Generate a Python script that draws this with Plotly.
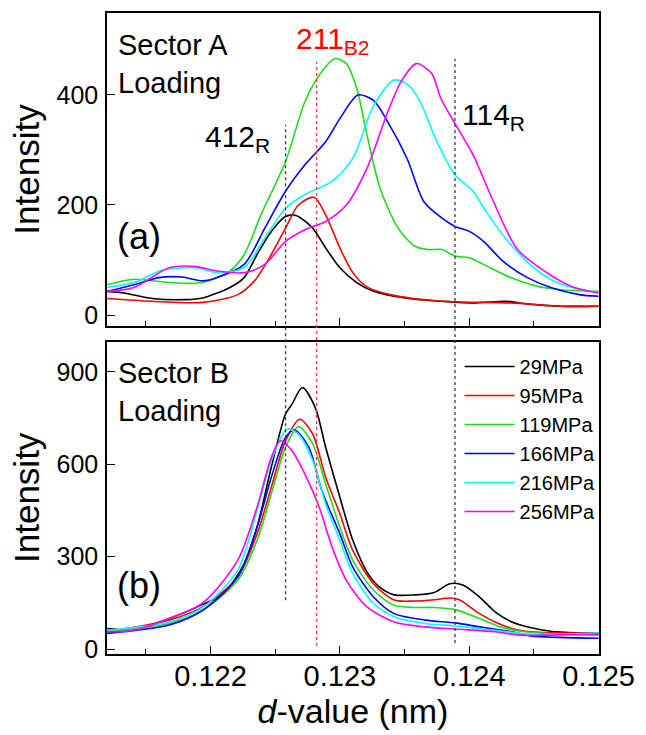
import plotly.graph_objects as go

FONT = "Arial, Liberation Sans, sans-serif"

labels = ["29MPa", "95MPa", "119MPa", "166MPa", "216MPa", "256MPa"]
colors = ["#000000", "#FF0000", "#1EDC1E", "#0000FF", "#00FFFF", "#FF00FF"]

# ---- (a) Sector A, loading: d-value (nm) and intensity ----
a29_d = [0.12120, 0.12133, 0.12155, 0.12181, 0.12194, 0.12215, 0.12226, 0.12236, 0.12247,
         0.12258, 0.12266, 0.12279, 0.12289, 0.12300, 0.12313, 0.12326, 0.12353, 0.12379,
         0.12405, 0.12429, 0.12445, 0.12471, 0.12500]
a29_i = [43, 40, 30, 28, 31, 50, 68, 110, 152, 179, 181, 158, 122, 86, 59, 43, 30, 25, 22, 25, 20, 16, 16]

a95_d = [0.12120, 0.12155, 0.12194, 0.12221, 0.12234, 0.12247, 0.12258, 0.12268, 0.12280,
         0.12289, 0.12300, 0.12310, 0.12321, 0.12339, 0.12379, 0.12432, 0.12471, 0.12500]
a95_i = [30, 25, 23, 37, 62, 110, 158, 200, 214, 182, 122, 77, 51, 37, 25, 22, 16, 16]

a119_d = [0.12120, 0.12141, 0.12168, 0.12194, 0.12215, 0.12226, 0.12239, 0.12258, 0.12273,
          0.12284, 0.12296, 0.12305, 0.12313, 0.12321, 0.12331, 0.12345, 0.12358, 0.12368,
          0.12379, 0.12389, 0.12400, 0.12411, 0.12432, 0.12453, 0.12471, 0.12500]
a119_i = [55, 65, 59, 59, 80, 110, 182, 279, 388, 436, 466, 457, 412, 327, 231, 158, 125, 119,
          119, 107, 104, 92, 68, 52, 46, 43]

a166_d = [0.12120, 0.12141, 0.12160, 0.12178, 0.12194, 0.12205, 0.12226, 0.12242, 0.12258,
          0.12273, 0.12289, 0.12300, 0.12314, 0.12326, 0.12337, 0.12352, 0.12365, 0.12379,
          0.12389, 0.12400, 0.12411, 0.12426, 0.12445, 0.12463, 0.12485, 0.12500]
a166_i = [43, 55, 68, 69, 62, 68, 92, 158, 225, 273, 315, 357, 400, 390, 351, 284, 206, 176,
          161, 152, 134, 98, 68, 50, 37, 34]

a216_d = [0.12120, 0.12141, 0.12162, 0.12189, 0.12205, 0.12226, 0.12242, 0.12258, 0.12273,
          0.12294, 0.12310, 0.12326, 0.12342, 0.12353, 0.12362, 0.12375, 0.12389, 0.12403,
          0.12413, 0.12432, 0.12453, 0.12471, 0.12500]
a216_i = [50, 59, 81, 86, 77, 86, 140, 194, 219, 243, 285, 380, 427, 418, 388, 315, 255, 225,
          188, 128, 80, 56, 40]

a256_d = [0.12120, 0.12141, 0.12168, 0.12189, 0.12205, 0.12226, 0.12242, 0.12258, 0.12273,
          0.12289, 0.12305, 0.12321, 0.12337, 0.12347, 0.12359, 0.12371, 0.12378, 0.12389,
          0.12403, 0.12418, 0.12437, 0.12458, 0.12479, 0.12500]
a256_i = [43, 50, 86, 88, 80, 77, 92, 134, 155, 170, 200, 267, 369, 423, 457, 439, 394, 348,
          291, 210, 120, 80, 52, 40]

# ---- (b) Sector B, loading ----
b29_d = [0.12120, 0.12141, 0.12168, 0.12194, 0.12210, 0.12226, 0.12236, 0.12247, 0.12258,
         0.12263, 0.12271, 0.12281, 0.12289, 0.12300, 0.12310, 0.12321, 0.12331, 0.12342,
         0.12358, 0.12373, 0.12385, 0.12395, 0.12408, 0.12420, 0.12433, 0.12448, 0.12463,
         0.12483, 0.12500]
b29_i = [67, 64, 99, 145, 180, 277, 396, 590, 763, 795, 849, 784, 655, 493, 353, 250, 200, 176,
         176, 184, 212, 208, 169, 121, 88, 69, 58, 53, 52]

b95_d = [0.12120, 0.12168, 0.12194, 0.12221, 0.12236, 0.12247, 0.12258, 0.12269, 0.12279,
         0.12289, 0.12300, 0.12310, 0.12326, 0.12342, 0.12358, 0.12373, 0.12385, 0.12392,
         0.12408, 0.12420, 0.12433, 0.12448, 0.12470, 0.12500]
b95_i = [56, 94, 137, 234, 374, 525, 676, 746, 698, 558, 439, 320, 212, 159, 156, 160, 166, 161,
         115, 88, 67, 56, 52, 52]

b119_d = [0.12120, 0.12168, 0.12194, 0.12221, 0.12236, 0.12247, 0.12258, 0.12268, 0.12279,
          0.12289, 0.12300, 0.12310, 0.12326, 0.12342, 0.12358, 0.12373, 0.12389, 0.12408,
          0.12424, 0.12440, 0.12470, 0.12500]
b119_i = [56, 83, 126, 223, 353, 504, 655, 722, 666, 536, 396, 288, 191, 142, 135, 135, 128, 99,
          72, 58, 48, 45]

b166_d = [0.12120, 0.12168, 0.12194, 0.12221, 0.12236, 0.12247, 0.12258, 0.12265, 0.12276,
          0.12286, 0.12300, 0.12310, 0.12326, 0.12342, 0.12366, 0.12389, 0.12408, 0.12433,
          0.12448, 0.12470, 0.12500]
b166_i = [51, 78, 126, 234, 396, 558, 687, 711, 655, 515, 374, 266, 169, 115, 94, 85, 72, 56,
          42, 38, 35]

b216_d = [0.12120, 0.12168, 0.12194, 0.12221, 0.12236, 0.12247, 0.12259, 0.12268, 0.12279,
          0.12289, 0.12300, 0.12310, 0.12326, 0.12342, 0.12366, 0.12389, 0.12420, 0.12448,
          0.12500]
b216_i = [61, 88, 135, 256, 450, 612, 714, 698, 612, 471, 353, 245, 148, 105, 83, 75, 61, 48, 53]

b256_d = [0.12120, 0.12141, 0.12168, 0.12194, 0.12221, 0.12236, 0.12247, 0.12254, 0.12263,
          0.12273, 0.12284, 0.12294, 0.12305, 0.12321, 0.12342, 0.12366, 0.12389, 0.12420,
          0.12440, 0.12470, 0.12500]
b256_i = [56, 61, 99, 150, 288, 461, 622, 676, 644, 568, 461, 331, 223, 137, 88, 72, 65, 56, 45,
          46, 48]

panel_a = [(a29_d, a29_i), (a95_d, a95_i), (a119_d, a119_i),
           (a166_d, a166_i), (a216_d, a216_i), (a256_d, a256_i)]
panel_b = [(b29_d, b29_i), (b95_d, b95_i), (b119_d, b119_i),
           (b166_d, b166_i), (b216_d, b216_i), (b256_d, b256_i)]

# reflection positions marked by dotted guides (nm)
d_412R = 0.12258
d_211B2 = 0.12282
d_114R = 0.12389

x_ticks = [0.122, 0.123, 0.124, 0.125]
ya_ticks = [0, 200, 400]
yb_ticks = [0, 300, 600, 900]

W, H = 646, 735
ML, MR, MT, MB = 107, 38, 11, 81


def px(p):
    return (p - ML) / (W - ML - MR)


def py(p):
    return (H - MB - p) / (H - MT - MB)


fig = go.Figure()

for (d, inten), name, col in zip(panel_a, labels, colors):
    fig.add_trace(go.Scatter(x=d, y=inten, mode="lines", name=name, showlegend=False,
                             line=dict(color=col, width=1.6, shape="spline", smoothing=0.8),
                             xaxis="x2", yaxis="y2"))

for (d, inten), name, col in zip(panel_b, labels, colors):
    fig.add_trace(go.Scatter(x=d, y=inten, mode="lines", name=name,
                             line=dict(color=col, width=1.6, shape="spline", smoothing=0.8),
                             xaxis="x", yaxis="y"))

axis_common = dict(showline=True, mirror=True, linecolor="black", linewidth=1.5,
                   ticks="inside", tickcolor="black", ticklen=8, tickwidth=1.3,
                   showgrid=False, zeroline=False)

xrange = [0.1212, 0.125003]
minor_x = dict(ticks="inside", ticklen=5, tickwidth=1.3, tickcolor="black",
               tick0=0.1215, dtick=0.0005, showgrid=False)

fig.update_layout(
    width=W, height=H,
    margin=dict(l=ML, r=MR, t=MT, b=MB),
    paper_bgcolor="white", plot_bgcolor="white",
    font=dict(family=FONT, color="black"),
    xaxis=dict(domain=[0, 1], anchor="y", range=xrange, tickvals=x_ticks,
               ticktext=[f"{v:.3f}" for v in x_ticks], tickfont=dict(size=29),
               ticklabelstandoff=-5, minor=minor_x,
               title=dict(text="<i>d</i>-value (nm)", font=dict(size=34), standoff=9),
               **axis_common),
    yaxis=dict(domain=[0, 0.4873], anchor="x", range=[-16, 998], tickvals=yb_ticks,
               tickfont=dict(size=25), ticklabelstandoff=2,
               title=dict(text="Intensity", font=dict(size=35), standoff=6),
               **axis_common),
    xaxis2=dict(domain=[0, 1], anchor="y2", range=xrange, matches="x", tickvals=x_ticks,
                showticklabels=False, minor=minor_x, **axis_common),
    yaxis2=dict(domain=[0.5117, 1], anchor="x2", range=[-20, 549], tickvals=ya_ticks,
                tickfont=dict(size=25), ticklabelstandoff=2,
                title=dict(text="Intensity", font=dict(size=35), standoff=6),
                **axis_common),
    legend=dict(x=px(466), y=py(346), xanchor="left", yanchor="top",
                font=dict(size=20), bgcolor="rgba(0,0,0,0)", itemwidth=50,
                tracegroupgap=0),
)

# dotted guides at the reflection positions, running across both panels
for d, top, bottom, col in [(d_412R, 123, 600, "#3a3a3a"),
                            (d_211B2, 60, 646, "#FF3B3B"),
                            (d_114R, 57, 643, "#3a3a3a")]:
    fig.add_shape(type="line", xref="x", yref="paper", x0=d, x1=d,
                  y0=py(bottom), y1=py(top),
                  line=dict(color=col, width=1.3, dash="dot"))

ann = [
    dict(text="Sector A<br>Loading", x=px(116), y=py(25), size=29, color="black", ya="top"),
    dict(text="(a)", x=px(115), y=py(235), size=36, color="black", ya="middle"),
    dict(text="412<sub>R</sub>", x=px(205), y=py(137), size=30, color="black", ya="middle"),
    dict(text="211<sub>B2</sub>", x=px(297), y=py(39), size=30, color="#FF0000", ya="middle"),
    dict(text="114<sub>R</sub>", x=px(466), y=py(115), size=30, color="black", ya="middle"),
    dict(text="Sector B<br>Loading", x=px(116), y=py(354), size=29, color="black", ya="top"),
    dict(text="(b)", x=px(115), y=py(585), size=36, color="black", ya="middle"),
]
for a in ann:
    fig.add_annotation(text=a["text"], x=a["x"], y=a["y"], xref="paper", yref="paper",
                       xanchor="left", yanchor=a["ya"], align="left", showarrow=False,
                       font=dict(family=FONT, size=a["size"], color=a["color"]))

fig.write_html("out.html")
